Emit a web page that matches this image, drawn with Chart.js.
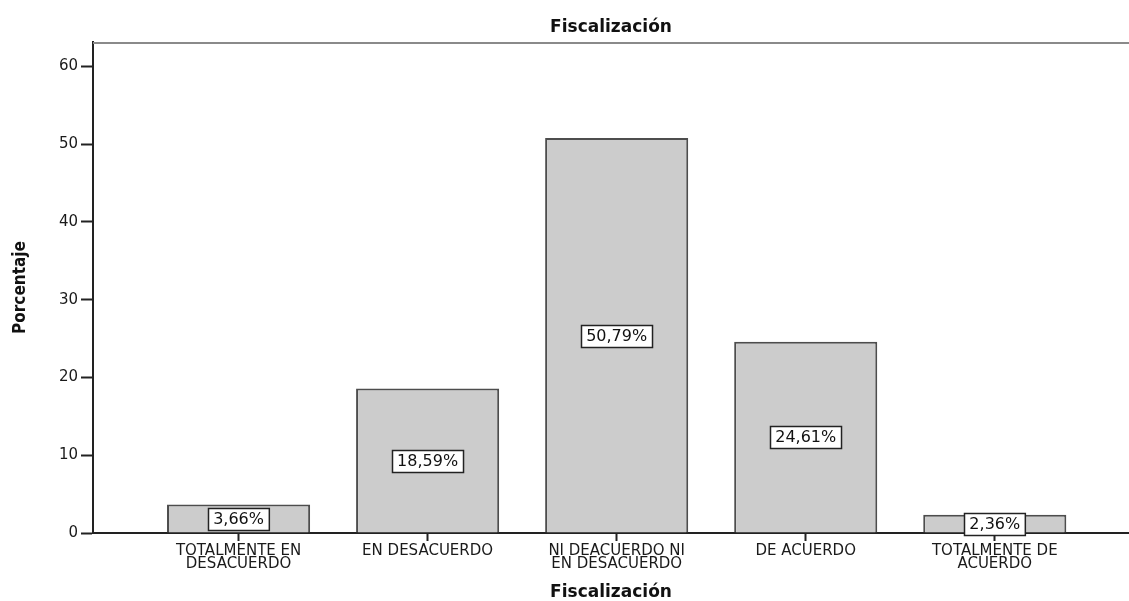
<!DOCTYPE html>
<html>
<head>
<meta charset="utf-8">
<script src="https://cdn.jsdelivr.net/npm/chart.js@4.4.1/dist/chart.umd.min.js"></script>
<style>
    html, body { margin: 0; padding: 0; background: #fff; }
    #wrap { width: 1129px; height: 601px; }
</style>
</head>
<body>
<div id="wrap"><canvas id="fiscChart" width="1129" height="601"></canvas></div>
<script>
// --- DATA ---
const categories = [
    ['TOTALMENTE EN', 'DESACUERDO'],
    ['EN DESACUERDO'],
    ['NI DEACUERDO NI', 'EN DESACUERDO'],
    ['DE ACUERDO'],
    ['TOTALMENTE DE', 'ACUERDO']
];
const percentages = [3.66, 18.59, 50.79, 24.61, 2.36];
const valueLabels = ['3,66%', '18,59%', '50,79%', '24,61%', '2,36%'];
const yTickValues = [0, 10, 20, 30, 40, 50, 60];
const chartTitle = 'Fiscalización';
const xTitle = 'Fiscalización';
const yTitle = 'Porcentaje';

// category i sits at x = i + 1 on a linear axis so the axis can run past the bars
const xMin = 0.23, xMax = 5.71;
const yMax = 63.15;

const FONT = '"DejaVu Sans", "Liberation Sans", Arial, sans-serif';

// white boxed percentage label in the middle of each bar
const boxLabels = {
    id: 'boxLabels',
    afterDatasetsDraw(chart) {
        const ctx = chart.ctx;
        const meta = chart.getDatasetMeta(0);
        const yScale = chart.scales.y;
        ctx.save();
        ctx.font = '16px ' + FONT;
        ctx.textAlign = 'center';
        ctx.textBaseline = 'middle';
        meta.data.forEach((bar, i) => {
            const y = yScale.getPixelForValue(percentages[i] / 2);
            const w = ctx.measureText(valueLabels[i]).width + 10;
            const h = 22;
            const x0 = Math.round(bar.x - w / 2) + 0.5;
            const y0 = Math.round(y - h / 2) + 0.5;
            ctx.fillStyle = '#fff';
            ctx.fillRect(x0, y0, w, h);
            ctx.strokeStyle = '#222';
            ctx.lineWidth = 1.5;
            ctx.strokeRect(x0, y0, w, h);
            ctx.fillStyle = '#111';
            ctx.fillText(valueLabels[i], bar.x, y + 1);
        });
        ctx.restore();
    }
};

// grey frame line along the top of the plot area
const topFrame = {
    id: 'topFrame',
    beforeDatasetsDraw(chart) {
        const { ctx, chartArea } = chart;
        ctx.save();
        ctx.strokeStyle = '#8a8a8a';
        ctx.lineWidth = 2;
        ctx.beginPath();
        ctx.moveTo(chartArea.left, chartArea.top + 1);
        ctx.lineTo(chartArea.right, chartArea.top + 1);
        ctx.stroke();
        ctx.restore();
    }
};

new Chart(document.getElementById('fiscChart').getContext('2d'), {
    type: 'bar',
    data: {
        datasets: [{
            label: yTitle,
            data: percentages.map((v, i) => ({ x: i + 1, y: v })),
            backgroundColor: '#cccccc',
            borderColor: '#4d4d4d',
            borderWidth: 2,
            barPercentage: 0.757,
            categoryPercentage: 1
        }]
    },
    options: {
        responsive: false,
        animation: false,
        layout: { padding: 0 },
        plugins: {
            legend: { display: false },
            tooltip: { enabled: false },
            title: {
                display: true,
                text: chartTitle,
                fullSize: false,
                color: '#111',
                font: { family: FONT, size: 17, weight: 'bold', lineHeight: 1.2 },
                padding: { top: 17, bottom: 4.6 }
            }
        },
        scales: {
            x: {
                type: 'linear',
                min: xMin,
                max: xMax,
                offset: false,
                afterBuildTicks: (scale) => {
                    scale.ticks = categories.map((c, i) => ({ value: i + 1 }));
                },
                afterFit: (scale) => { scale.height = 68; },
                ticks: {
                    autoSkip: false,
                    maxRotation: 0,
                    padding: 3,
                    color: '#1a1a1a',
                    font: { family: FONT, size: 15, lineHeight: 0.9 },
                    callback: (value) => categories[value - 1] || ''
                },
                grid: {
                    display: true,
                    offset: false,
                    drawOnChartArea: false,
                    drawTicks: true,
                    tickLength: 8,
                    tickWidth: 2,
                    color: '#222'
                },
                border: { display: true, color: '#222', width: 2 },
                title: {
                    display: true,
                    text: xTitle,
                    color: '#111',
                    font: { family: FONT, size: 17, weight: 'bold', lineHeight: 1 },
                    padding: { top: 4, bottom: 0 }
                }
            },
            y: {
                min: 0,
                max: yMax,
                afterBuildTicks: (scale) => {
                    scale.ticks = yTickValues.map(v => ({ value: v }));
                },
                afterFit: (scale) => { scale.width = 93; },
                ticks: {
                    padding: 3,
                    color: '#1a1a1a',
                    font: { family: FONT, size: 15 }
                },
                grid: {
                    display: true,
                    drawOnChartArea: false,
                    drawTicks: true,
                    tickLength: 12,
                    tickWidth: 2,
                    color: '#222'
                },
                border: { display: true, color: '#222', width: 2 },
                title: {
                    display: true,
                    text: yTitle,
                    color: '#111',
                    font: { family: '"Liberation Sans Narrow", "DejaVu Sans Condensed", ' + FONT, size: 17, weight: 'bold', lineHeight: 1.2 },
                    padding: { top: 10, bottom: 0 }
                }
            }
        }
    },
    plugins: [topFrame, boxLabels]
});
</script>
</body>
</html>
